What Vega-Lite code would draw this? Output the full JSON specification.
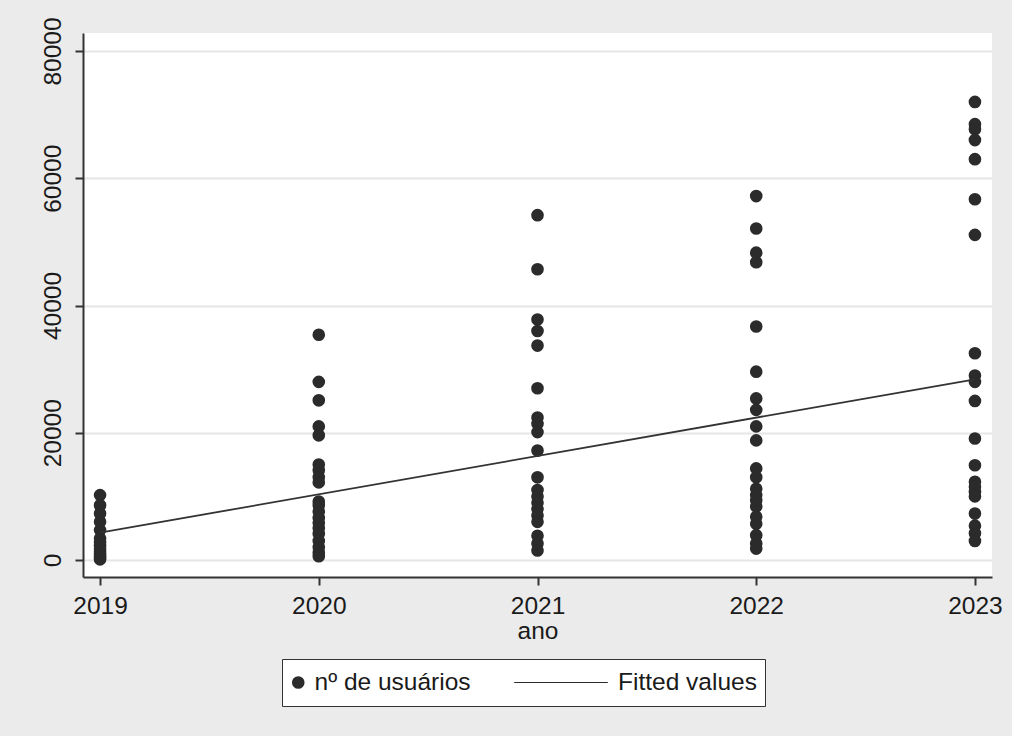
{
  "$schema": "https://vega.github.io/schema/vega-lite/v6.json",
  "width": 909,
  "height": 544,
  "autosize": {"type": "none"},
  "padding": {"left": 83, "top": 33, "right": 20, "bottom": 159},
  "background": "#ebebeb",
  "config": {
    "view": {"fill": "white", "stroke": null},
    "font": "Liberation Sans",
    "axis": {
      "labelFont": "Liberation Sans",
      "titleFont": "Liberation Sans",
      "labelFontSize": 24.5,
      "titleFontSize": 24.5,
      "titleFontWeight": "normal",
      "labelColor": "#1a1a1a",
      "titleColor": "#1a1a1a",
      "domainColor": "#333333",
      "domainWidth": 2,
      "tickColor": "#333333",
      "tickWidth": 2,
      "tickSize": 8,
      "gridColor": "#e6e6e6",
      "gridWidth": 2
    },
    "legend": {
      "labelFont": "Liberation Sans",
      "labelFontSize": 24.5,
      "labelColor": "#1a1a1a"
    }
  },
  "datasets": {
    "pts": [
      {"ano": 2019, "usuarios": 10200, "serie": "nº de usuários"},
      {"ano": 2019, "usuarios": 8600, "serie": "nº de usuários"},
      {"ano": 2019, "usuarios": 7300, "serie": "nº de usuários"},
      {"ano": 2019, "usuarios": 6000, "serie": "nº de usuários"},
      {"ano": 2019, "usuarios": 4700, "serie": "nº de usuários"},
      {"ano": 2019, "usuarios": 3400, "serie": "nº de usuários"},
      {"ano": 2019, "usuarios": 2800, "serie": "nº de usuários"},
      {"ano": 2019, "usuarios": 2200, "serie": "nº de usuários"},
      {"ano": 2019, "usuarios": 1700, "serie": "nº de usuários"},
      {"ano": 2019, "usuarios": 1300, "serie": "nº de usuários"},
      {"ano": 2019, "usuarios": 900, "serie": "nº de usuários"},
      {"ano": 2019, "usuarios": 600, "serie": "nº de usuários"},
      {"ano": 2019, "usuarios": 300, "serie": "nº de usuários"},
      {"ano": 2019, "usuarios": 100, "serie": "nº de usuários"},
      {"ano": 2020, "usuarios": 35400, "serie": "nº de usuários"},
      {"ano": 2020, "usuarios": 28000, "serie": "nº de usuários"},
      {"ano": 2020, "usuarios": 25100, "serie": "nº de usuários"},
      {"ano": 2020, "usuarios": 21000, "serie": "nº de usuários"},
      {"ano": 2020, "usuarios": 19600, "serie": "nº de usuários"},
      {"ano": 2020, "usuarios": 15000, "serie": "nº de usuários"},
      {"ano": 2020, "usuarios": 14100, "serie": "nº de usuários"},
      {"ano": 2020, "usuarios": 13000, "serie": "nº de usuários"},
      {"ano": 2020, "usuarios": 12200, "serie": "nº de usuários"},
      {"ano": 2020, "usuarios": 9200, "serie": "nº de usuários"},
      {"ano": 2020, "usuarios": 8600, "serie": "nº de usuários"},
      {"ano": 2020, "usuarios": 7600, "serie": "nº de usuários"},
      {"ano": 2020, "usuarios": 6600, "serie": "nº de usuários"},
      {"ano": 2020, "usuarios": 5800, "serie": "nº de usuários"},
      {"ano": 2020, "usuarios": 5000, "serie": "nº de usuários"},
      {"ano": 2020, "usuarios": 4100, "serie": "nº de usuários"},
      {"ano": 2020, "usuarios": 3000, "serie": "nº de usuários"},
      {"ano": 2020, "usuarios": 2000, "serie": "nº de usuários"},
      {"ano": 2020, "usuarios": 1200, "serie": "nº de usuários"},
      {"ano": 2020, "usuarios": 600, "serie": "nº de usuários"},
      {"ano": 2021, "usuarios": 54200, "serie": "nº de usuários"},
      {"ano": 2021, "usuarios": 45700, "serie": "nº de usuários"},
      {"ano": 2021, "usuarios": 37800, "serie": "nº de usuários"},
      {"ano": 2021, "usuarios": 36000, "serie": "nº de usuários"},
      {"ano": 2021, "usuarios": 33700, "serie": "nº de usuários"},
      {"ano": 2021, "usuarios": 27000, "serie": "nº de usuários"},
      {"ano": 2021, "usuarios": 22400, "serie": "nº de usuários"},
      {"ano": 2021, "usuarios": 21400, "serie": "nº de usuários"},
      {"ano": 2021, "usuarios": 20100, "serie": "nº de usuários"},
      {"ano": 2021, "usuarios": 17200, "serie": "nº de usuários"},
      {"ano": 2021, "usuarios": 13000, "serie": "nº de usuários"},
      {"ano": 2021, "usuarios": 11000, "serie": "nº de usuários"},
      {"ano": 2021, "usuarios": 10000, "serie": "nº de usuários"},
      {"ano": 2021, "usuarios": 9000, "serie": "nº de usuários"},
      {"ano": 2021, "usuarios": 8000, "serie": "nº de usuários"},
      {"ano": 2021, "usuarios": 7000, "serie": "nº de usuários"},
      {"ano": 2021, "usuarios": 6000, "serie": "nº de usuários"},
      {"ano": 2021, "usuarios": 3800, "serie": "nº de usuários"},
      {"ano": 2021, "usuarios": 2600, "serie": "nº de usuários"},
      {"ano": 2021, "usuarios": 1500, "serie": "nº de usuários"},
      {"ano": 2022, "usuarios": 57200, "serie": "nº de usuários"},
      {"ano": 2022, "usuarios": 52100, "serie": "nº de usuários"},
      {"ano": 2022, "usuarios": 48300, "serie": "nº de usuários"},
      {"ano": 2022, "usuarios": 46800, "serie": "nº de usuários"},
      {"ano": 2022, "usuarios": 36700, "serie": "nº de usuários"},
      {"ano": 2022, "usuarios": 29600, "serie": "nº de usuários"},
      {"ano": 2022, "usuarios": 25400, "serie": "nº de usuários"},
      {"ano": 2022, "usuarios": 23600, "serie": "nº de usuários"},
      {"ano": 2022, "usuarios": 21000, "serie": "nº de usuários"},
      {"ano": 2022, "usuarios": 18800, "serie": "nº de usuários"},
      {"ano": 2022, "usuarios": 14400, "serie": "nº de usuários"},
      {"ano": 2022, "usuarios": 13000, "serie": "nº de usuários"},
      {"ano": 2022, "usuarios": 11200, "serie": "nº de usuários"},
      {"ano": 2022, "usuarios": 10200, "serie": "nº de usuários"},
      {"ano": 2022, "usuarios": 9400, "serie": "nº de usuários"},
      {"ano": 2022, "usuarios": 8400, "serie": "nº de usuários"},
      {"ano": 2022, "usuarios": 6800, "serie": "nº de usuários"},
      {"ano": 2022, "usuarios": 5700, "serie": "nº de usuários"},
      {"ano": 2022, "usuarios": 3900, "serie": "nº de usuários"},
      {"ano": 2022, "usuarios": 2600, "serie": "nº de usuários"},
      {"ano": 2022, "usuarios": 1800, "serie": "nº de usuários"},
      {"ano": 2023, "usuarios": 72000, "serie": "nº de usuários"},
      {"ano": 2023, "usuarios": 68500, "serie": "nº de usuários"},
      {"ano": 2023, "usuarios": 67700, "serie": "nº de usuários"},
      {"ano": 2023, "usuarios": 66000, "serie": "nº de usuários"},
      {"ano": 2023, "usuarios": 63000, "serie": "nº de usuários"},
      {"ano": 2023, "usuarios": 56700, "serie": "nº de usuários"},
      {"ano": 2023, "usuarios": 51100, "serie": "nº de usuários"},
      {"ano": 2023, "usuarios": 32500, "serie": "nº de usuários"},
      {"ano": 2023, "usuarios": 29000, "serie": "nº de usuários"},
      {"ano": 2023, "usuarios": 28000, "serie": "nº de usuários"},
      {"ano": 2023, "usuarios": 25000, "serie": "nº de usuários"},
      {"ano": 2023, "usuarios": 19100, "serie": "nº de usuários"},
      {"ano": 2023, "usuarios": 14900, "serie": "nº de usuários"},
      {"ano": 2023, "usuarios": 12300, "serie": "nº de usuários"},
      {"ano": 2023, "usuarios": 11500, "serie": "nº de usuários"},
      {"ano": 2023, "usuarios": 10700, "serie": "nº de usuários"},
      {"ano": 2023, "usuarios": 10000, "serie": "nº de usuários"},
      {"ano": 2023, "usuarios": 7300, "serie": "nº de usuários"},
      {"ano": 2023, "usuarios": 5400, "serie": "nº de usuários"},
      {"ano": 2023, "usuarios": 4200, "serie": "nº de usuários"},
      {"ano": 2023, "usuarios": 3000, "serie": "nº de usuários"}
    ],
    "fit": [
      {"ano": 2019, "usuarios": 4300},
      {"ano": 2023, "usuarios": 28400}
    ]
  },
  "encoding": {
    "x": {
      "field": "ano",
      "type": "quantitative",
      "scale": {"domain": [2018.922, 2023.078], "nice": false, "zero": false},
      "axis": {
        "title": "ano",
        "values": [2019, 2020, 2021, 2022, 2023],
        "format": "d",
        "grid": false,
        "labelPadding": 9,
        "titlePadding": 2,
        "labelFlush": false
      }
    },
    "y": {
      "field": "usuarios",
      "type": "quantitative",
      "scale": {"domain": [-2670, 82830], "nice": false, "zero": false},
      "axis": {
        "title": null,
        "values": [0, 20000, 40000, 60000, 80000],
        "format": "d",
        "grid": true,
        "labelAngle": 270,
        "labelPadding": 10,
        "labelFlush": false
      }
    }
  },
  "layer": [
    {
      "data": {"name": "pts"},
      "mark": {"type": "point", "filled": true, "opacity": 1, "color": "#2b2b2b"},
      "encoding": {
        "shape": {
          "field": "serie",
          "type": "nominal",
          "scale": {"domain": ["nº de usuários", "Fitted values"], "range": ["circle", "M-0.9,-0.01H0.9V0.01H-0.9Z"]},
          "legend": {
            "title": null,
            "orient": "none",
            "legendX": 199,
            "legendY": 626,
            "direction": "horizontal",
            "strokeColor": "#333333",
            "fillColor": "white",
            "padding": 8,
            "clipHeight": 31,
            "symbolOffset": -4,
            "labelOffset": 4,
            "columnPadding": 41,
            "encode": {
              "symbols": {
                "fill": {"value": "#2b2b2b"},
                "opacity": {"value": 1}
              }
            }
          }
        },
        "size": {
          "field": "serie",
          "type": "nominal",
          "scale": {"type": "point", "padding": 0, "domain": ["nº de usuários", "Fitted values"], "range": [160, 10816]}
        }
      }
    },
    {
      "data": {"name": "fit"},
      "mark": {"type": "line", "color": "#333333", "strokeWidth": 1.8},
      "encoding": {}
    }
  ]
}
